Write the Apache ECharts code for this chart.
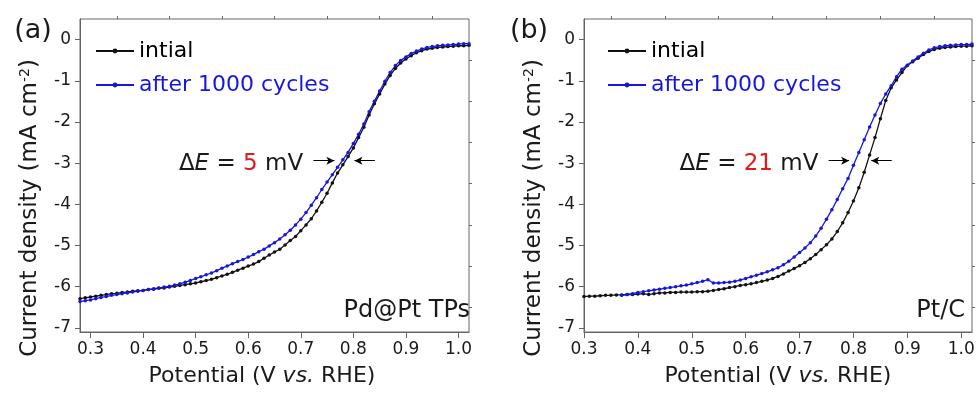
<!DOCTYPE html>
<html>
<head>
<meta charset="utf-8">
<script src="https://cdn.jsdelivr.net/npm/echarts@6/dist/echarts.min.js"></script>
<style>html,body{margin:0;padding:0;background:#fff}#c{width:979px;height:394px}</style>
</head>
<body>
<div id="c"></div>
<script>
// ---------- data ----------
const potentialA = [0.28,0.29,0.30,0.31,0.32,0.33,0.34,0.35,0.36,0.37,0.38,0.39,0.40,0.41,0.42,0.43,0.44,0.45,0.46,0.47,0.48,0.49,0.50,0.51,0.52,0.53,0.54,0.55,0.56,0.57,0.58,0.59,0.60,0.61,0.62,0.63,0.64,0.65,0.66,0.67,0.68,0.69,0.70,0.71,0.72,0.73,0.74,0.75,0.76,0.77,0.78,0.79,0.80,0.81,0.82,0.83,0.84,0.85,0.86,0.87,0.88,0.89,0.90,0.91,0.92,0.93,0.94,0.95,0.96,0.97,0.98,0.99,1.00,1.01,1.02];
const initialA = [-6.29,-6.27,-6.25,-6.23,-6.21,-6.19,-6.17,-6.16,-6.14,-6.13,
  -6.11,-6.10,-6.09,-6.07,-6.06,-6.04,-6.03,-6.01,-5.99,-5.97,
  -5.95,-5.93,-5.91,-5.88,-5.85,-5.82,-5.78,-5.74,-5.70,-5.65,
  -5.60,-5.55,-5.50,-5.45,-5.39,-5.31,-5.23,-5.16,-5.09,-4.99,
  -4.88,-4.78,-4.64,-4.50,-4.35,-4.16,-3.95,-3.73,-3.48,-3.24,
  -3.04,-2.84,-2.63,-2.38,-2.13,-1.83,-1.56,-1.32,-1.08,-0.87,
  -0.70,-0.57,-0.47,-0.39,-0.32,-0.27,-0.23,-0.21,-0.19,-0.18,
  -0.17,-0.16,-0.15,-0.15,-0.14];
const cycledA = [-6.36,-6.34,-6.32,-6.29,-6.26,-6.24,-6.21,-6.19,-6.17,-6.15,
  -6.13,-6.11,-6.09,-6.07,-6.05,-6.03,-6.01,-5.99,-5.96,-5.93,
  -5.89,-5.85,-5.80,-5.76,-5.71,-5.67,-5.61,-5.55,-5.50,-5.44,
  -5.39,-5.34,-5.28,-5.22,-5.15,-5.09,-5.01,-4.93,-4.84,-4.74,
  -4.63,-4.50,-4.36,-4.20,-4.02,-3.84,-3.64,-3.46,-3.28,-3.10,
  -2.92,-2.74,-2.52,-2.30,-2.05,-1.75,-1.50,-1.25,-1.01,-0.80,
  -0.63,-0.51,-0.42,-0.34,-0.28,-0.23,-0.19,-0.17,-0.15,-0.14,
  -0.13,-0.12,-0.11,-0.10,-0.10];

const potentialB = [0.30,0.31,0.32,0.33,0.34,0.35,0.36,0.37,0.38,0.39,0.40,0.41,0.42,0.43,0.44,0.45,0.46,0.47,0.48,0.49,0.50,0.51,0.52,0.53,0.54,0.55,0.56,0.57,0.58,0.59,0.60,0.61,0.62,0.63,0.64,0.65,0.66,0.67,0.68,0.69,0.70,0.71,0.72,0.73,0.74,0.75,0.76,0.77,0.78,0.79,0.80,0.81,0.82,0.83,0.84,0.85,0.86,0.87,0.88,0.89,0.90,0.91,0.92,0.93,0.94,0.95,0.96,0.97,0.98,0.99,1.00,1.01,1.02];
const initialB = [-6.24,-6.23,-6.23,-6.22,-6.21,-6.21,-6.20,-6.20,-6.19,-6.19,
  -6.18,-6.17,-6.19,-6.17,-6.15,-6.15,-6.14,-6.14,-6.13,-6.13,
  -6.13,-6.12,-6.12,-6.11,-6.09,-6.07,-6.05,-6.02,-6.00,-5.97,
  -5.95,-5.93,-5.90,-5.87,-5.84,-5.80,-5.75,-5.69,-5.62,-5.56,
  -5.49,-5.41,-5.32,-5.22,-5.10,-4.98,-4.84,-4.66,-4.45,-4.20,
  -3.92,-3.60,-3.22,-2.80,-2.38,-1.92,-1.48,-1.17,-0.98,-0.80,
  -0.63,-0.54,-0.45,-0.36,-0.29,-0.24,-0.21,-0.19,-0.18,-0.17,
  -0.16,-0.16,-0.15];
const cycledB = [null,null,null,null,null,null,null,-6.21,-6.19,-6.17,
  -6.14,-6.12,-6.10,-6.08,-6.06,-6.04,-6.02,-6.00,-5.98,-5.96,
  -5.93,-5.90,-5.87,-5.83,-5.91,-5.91,-5.90,-5.89,-5.87,-5.84,
  -5.80,-5.76,-5.72,-5.68,-5.64,-5.59,-5.54,-5.47,-5.38,-5.28,
  -5.17,-5.06,-4.93,-4.77,-4.58,-4.36,-4.13,-3.88,-3.62,-3.37,
  -3.05,-2.74,-2.43,-2.12,-1.83,-1.55,-1.32,-1.12,-0.90,-0.72,
  -0.62,-0.52,-0.42,-0.33,-0.25,-0.20,-0.17,-0.15,-0.14,-0.13,
  -0.12,-0.12,-0.11];

const xTickLabels = [0.3,0.4,0.5,0.6,0.7,0.8,0.9,1.0];
const xMinorTicks = [0.35,0.45,0.55,0.65,0.75,0.85,0.95];
const yTickLabels = [0,-1,-2,-3,-4,-5,-6,-7];
const yMinorTicks = [-0.5,-1.5,-2.5,-3.5,-4.5,-5.5,-6.5];
const seriesNames = ['intial','after 1000 cycles'];
// Delta E arrows: [tail, tip] potentials at the current level of the arrows
const arrowLevel = -2.94;
const arrowsA = [[0.724,0.764],[0.841,0.802]];
const arrowsB = [[0.754,0.792],[0.871,0.833]];

// ---------- styles ----------
const FONT = 'DejaVu Sans';
const AX = '#666';
const TXT = '#1a1a1a';
const BLACK = '#111';
const BLUE = '#1616e0';
const RED = '#e01b1b';

function pairs(xs, ys){
  const out = [];
  xs.forEach((x,i)=>{ if (ys[i] !== null) out.push([x, ys[i]]); });
  return out;
}

function majorX(g, min, max){
  return {type:'value', gridIndex:g, min:min, max:max,
    axisLine:{show:true, onZero:false, lineStyle:{color:AX, width:1}},
    axisTick:{show:true, inside:false, length:6, customValues:xTickLabels, lineStyle:{color:AX}},
    axisLabel:{customValues:xTickLabels, formatter:v=>v.toFixed(1), fontFamily:FONT, fontSize:17, color:TXT, margin:9},
    splitLine:{show:false}};
}
function minorX(g, min, max){
  return {type:'value', gridIndex:g, min:min, max:max,
    axisLine:{show:false, onZero:false},
    axisTick:{show:true, inside:false, length:3, customValues:xMinorTicks, lineStyle:{color:AX}},
    axisLabel:{show:false}, splitLine:{show:false}};
}
function majorY(g){
  return {type:'value', gridIndex:g, min:-7.1, max:0.5,
    axisLine:{show:true, onZero:false, lineStyle:{color:AX, width:1}},
    axisTick:{show:true, inside:false, length:5, customValues:yTickLabels, lineStyle:{color:AX}},
    axisLabel:{customValues:yTickLabels, formatter:v=>String(v), fontFamily:FONT, fontSize:17, color:TXT, margin:9},
    splitLine:{show:false}};
}
function minorY(g){
  return {type:'value', gridIndex:g, min:-7.1, max:0.5,
    axisLine:{show:false, onZero:false},
    axisTick:{show:true, inside:false, length:3, customValues:yMinorTicks, lineStyle:{color:AX}},
    axisLabel:{show:false}, splitLine:{show:false}};
}
function arrowLines(arr){
  return arr.map(a=>[{coord:[a[0], arrowLevel]},{coord:[a[1], arrowLevel]}]);
}
function lineSeries(name, xi, yi, data, color, marks){
  const s = {type:'line', name:name, xAxisIndex:xi, yAxisIndex:yi, data:data,
    symbol:'circle', symbolSize:3.5, showSymbol:true, showAllSymbol:true,
    lineStyle:{width:1.3, color:color}, itemStyle:{color:color},
    emphasis:{disabled:true}, animation:false};
  if (marks) {
    s.markLine = {silent:true, animation:false, symbol:['none','arrow'], symbolSize:[6,8],
      label:{show:false}, lineStyle:{color:'#000', width:1, type:'solid'},
      emphasis:{disabled:true}, data:arrowLines(marks)};
  }
  return s;
}
function legendAt(left){
  return {left:left, top:34, orient:'vertical', itemWidth:38, itemHeight:6, itemGap:10,
    selectedMode:false,
    textStyle:{fontFamily:FONT, fontSize:22, lineHeight:24, color:TXT},
    data:[{name:seriesNames[0], textStyle:{color:'#000'}},
          {name:seriesNames[1], textStyle:{color:BLUE}}]};
}
function txt(x, y, text, size, opts){
  return Object.assign({type:'text', x:x, y:y, silent:true,
    style:{text:text, fontFamily:FONT, fontSize:size, fill:TXT, align:'center', verticalAlign:'middle'}}, opts||{});
}
const richBase = (size)=>({
  n:{fontFamily:FONT, fontSize:size, fill:TXT, color:TXT},
  i:{fontFamily:FONT, fontSize:size, fontStyle:'italic', fill:TXT, color:TXT},
  r:{fontFamily:FONT, fontSize:size, fill:RED, color:RED},
  s:{fontFamily:FONT, fontSize:14, fill:TXT, color:TXT, verticalAlign:'top'}
});
function richText(x, y, text, size, rot){
  return {type:'text', x:x, y:y, rotation:rot||0, silent:true,
    style:{text:text, rich:richBase(size), fontFamily:FONT, fontSize:size, fill:TXT,
      align:'center', verticalAlign:'middle'}};
}

const chart = echarts.init(document.getElementById('c'), null, {renderer:'canvas'});
chart.setOption({
  animation:false,
  backgroundColor:'#fff',
  grid:[
    {left:80, top:19, width:389, height:313, show:true, borderColor:AX, borderWidth:1, containLabel:false},
    {left:584, top:19, width:388, height:313, show:true, borderColor:AX, borderWidth:1, containLabel:false}
  ],
  xAxis:[majorX(0,0.28,1.02), minorX(0,0.28,1.02), majorX(1,0.30,1.02), minorX(1,0.30,1.02)],
  yAxis:[majorY(0), minorY(0), majorY(1), minorY(1)],
  legend:[legendAt(90), legendAt(602)],
  series:[
    lineSeries(seriesNames[0], 0, 0, pairs(potentialA, initialA), BLACK, arrowsA),
    lineSeries(seriesNames[1], 0, 0, pairs(potentialA, cycledA), BLUE),
    lineSeries(seriesNames[0], 2, 2, pairs(potentialB, initialB), BLACK, arrowsB),
    lineSeries(seriesNames[1], 2, 2, pairs(potentialB, cycledB), BLUE)
  ],
  graphic:[
    txt(33, 31, '(a)', 27),
    txt(529, 31, '(b)', 27),
    richText(30, 208, '{n|Current density (mA cm}{s|-2}{n|)}', 23, Math.PI/2),
    richText(534, 208, '{n|Current density (mA cm}{s|-2}{n|)}', 23, Math.PI/2),
    richText(262, 376, '{n|Potential (V }{i|vs.}{n| RHE)}', 22),
    richText(778, 376, '{n|Potential (V }{i|vs.}{n| RHE)}', 22),
    richText(241, 164, '{n|Δ}{i|E}{n| = }{r|5}{n| mV}', 23),
    richText(749, 164, '{n|Δ}{i|E}{n| = }{r|21}{n| mV}', 23),
    txt(470, 311, 'Pd@Pt TPs', 24, {style:{text:'Pd@Pt TPs', fontFamily:FONT, fontSize:24, fill:TXT, align:'right', verticalAlign:'middle'}}),
    txt(965, 311, 'Pt/C', 24, {style:{text:'Pt/C', fontFamily:FONT, fontSize:24, fill:TXT, align:'right', verticalAlign:'middle'}})
  ]
});
</script>
</body>
</html>
